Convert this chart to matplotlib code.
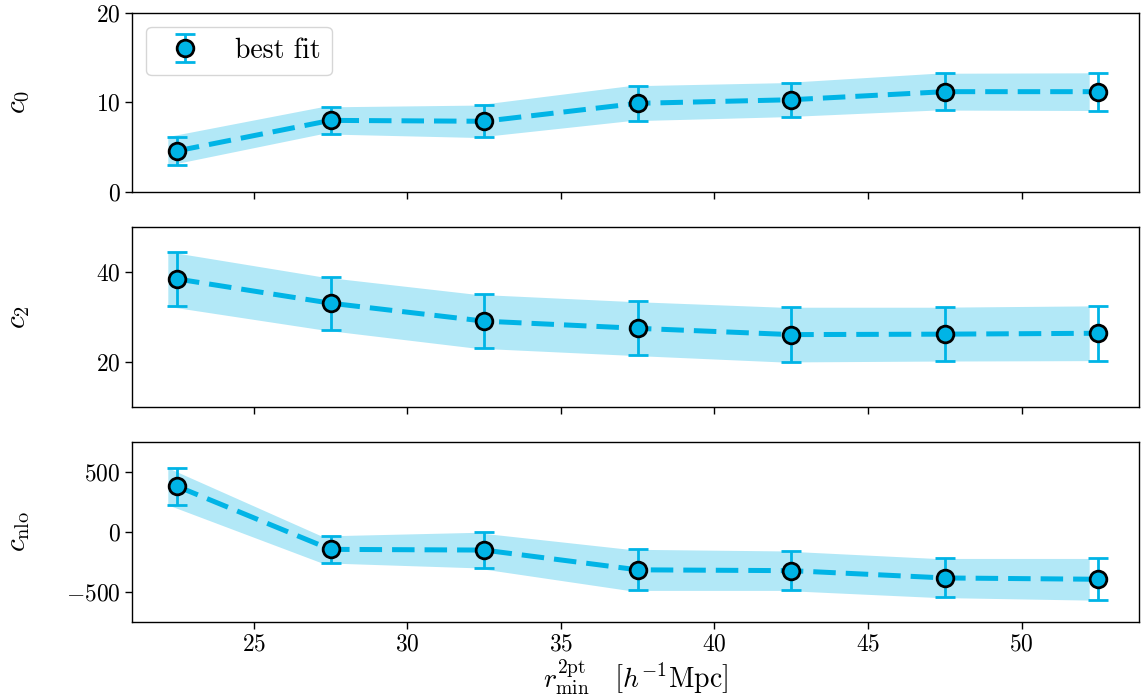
"""Best-fit counterterm coefficients as a function of the minimum fitting scale."""

import matplotlib
matplotlib.use("Agg")
import matplotlib.pyplot as plt

plt.rcParams["font.family"] = "serif"
plt.rcParams["font.serif"] = ["cmr10"]
plt.rcParams["mathtext.fontset"] = "cm"
plt.rcParams["axes.formatter.use_mathtext"] = True
plt.rcParams["axes.unicode_minus"] = True

# data
r_min = [22.5, 27.5, 32.5, 37.5, 42.5, 47.5, 52.5]

c0 = [4.6, 8.0, 7.9, 9.9, 10.3, 11.2, 11.2]
c0_err = [1.6, 1.5, 1.8, 1.95, 1.9, 2.05, 2.1]

c2 = [38.5, 33.1, 29.1, 27.5, 26.1, 26.2, 26.4]
c2_err = [6.1, 5.9, 6.0, 6.0, 6.1, 6.0, 6.1]

cnlo = [380, -147, -153, -318, -325, -386, -397]
cnlo_err = [155, 112, 148, 172, 165, 163, 174]

panels = [
    (c0, c0_err, r"$c_0$", (0, 20), [0, 10, 20]),
    (c2, c2_err, r"$c_2$", (10, 50), [20, 40]),
    (cnlo, cnlo_err, r"$c_{\rm nlo}$", (-750, 750), [-500, 0, 500]),
]

color = "#00b4e6"
band_shift = 0.3  # the shaded band sits slightly left of the points

fig, axes = plt.subplots(3, 1, sharex=True, figsize=(11.45, 6.97), dpi=100)
fig.subplots_adjust(left=0.1157, right=0.9947, top=0.9818, bottom=0.1083, hspace=0.196)

for ax, (vals, errs, label, ylim, yticks) in zip(axes, panels):
    lo = [v - e for v, e in zip(vals, errs)]
    hi = [v + e for v, e in zip(vals, errs)]
    ax.fill_between([x - band_shift for x in r_min], lo, hi,
                    color=color, alpha=0.3, linewidth=0, zorder=1)
    ax.plot(r_min, vals, color=color, linewidth=3.6, dashes=(4.5, 2.0), zorder=2)
    ax.errorbar(r_min, vals, yerr=errs, fmt="o", color=color,
                markerfacecolor=color, markeredgecolor="black",
                markersize=12, markeredgewidth=2, elinewidth=2,
                capsize=7, capthick=2, label="best fit", zorder=3)

    ax.set_ylim(*ylim)
    ax.set_yticks(yticks)
    ax.set_ylabel(label, fontsize=21)
    ax.yaxis.set_label_coords(-0.1, 0.5)
    ax.tick_params(labelsize=17, length=5, width=1)
    for spine in ax.spines.values():
        spine.set_linewidth(1.0)

axes[0].legend(loc="upper left", fontsize=20)
axes[-1].set_xlim(21.05, 53.82)
axes[-1].set_xticks([25, 30, 35, 40, 45, 50])
axes[-1].set_xlabel(r"$r_{\rm min}^{\rm 2pt}\quad\left[h^{-1}{\rm Mpc}\right]$",
                    fontsize=20, labelpad=1)

fig.savefig("out.png", dpi=100)
plt.close(fig)
